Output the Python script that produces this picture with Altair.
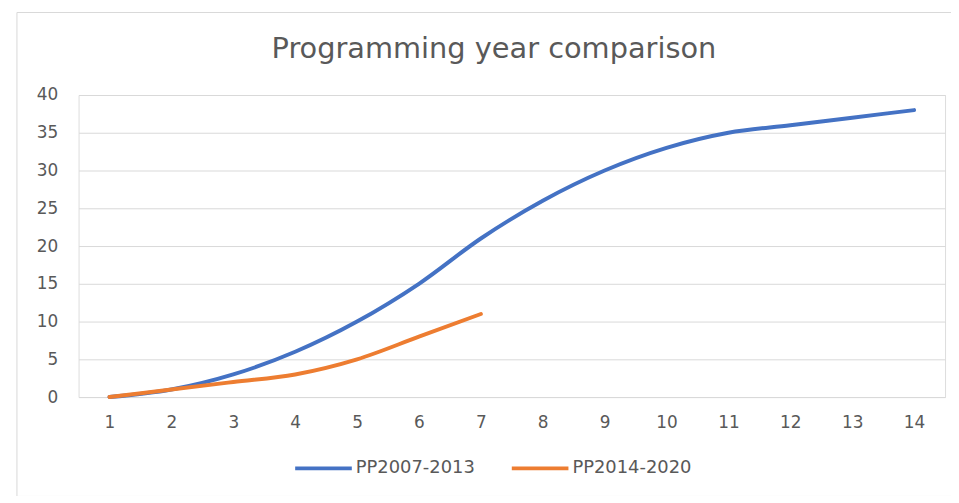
import altair as alt
import pandas as pd

years = list(range(1, 15))
pp2007 = [0, 1, 3, 6, 10, 15, 21, 26, 30, 33, 35, 36, 37, 38]
pp2014 = [0, 1, 2, 3, 5, 8, 11]
series_names = ["PP2007-2013", "PP2014-2020"]
colors = ["#4472C4", "#ED7D31"]
title_text = "Programming year comparison"

rows = []
for x, v in zip(years, pp2007):
    rows.append({"year": x, "value": v, "series": series_names[0]})
for x, v in zip(years, pp2014):
    rows.append({"year": x, "value": v, "series": series_names[1]})
df = pd.DataFrame(rows)

FONT = "DejaVu Sans"
GRAY = "#595959"

frame = alt.Chart(pd.DataFrame({"a": [0]})).mark_rect(
    fill=None, stroke="#d9d9d9", strokeWidth=1
).encode(
    x=alt.value(-62), x2=alt.value(905), y=alt.value(-83), y2=alt.value(404)
)

title = alt.Chart(pd.DataFrame({"t": [title_text]})).mark_text(
    font=FONT, fontSize=29, color=GRAY, align="center", baseline="alphabetic"
).encode(text="t:N", x=alt.value(418), y=alt.value(-37))

lines = alt.Chart(df).mark_line(strokeWidth=4, interpolate="monotone", strokeCap="round").encode(
    x=alt.X("year:O", scale=alt.Scale(type="point", padding=0.5),
            axis=alt.Axis(title=None, labelAngle=0, ticks=False, domain=False,
                          labelFontSize=17, labelColor=GRAY, labelFont=FONT,
                          labelPadding=18, grid=False)),
    y=alt.Y("value:Q", scale=alt.Scale(domain=[0, 40], nice=False),
            axis=alt.Axis(title=None, values=list(range(0, 45, 5)), ticks=False, domain=False,
                          labelFontSize=17, labelColor=GRAY, labelFont=FONT,
                          labelPadding=21, gridColor="#d9d9d9", gridWidth=1)),
    color=alt.Color("series:N", scale=alt.Scale(domain=series_names, range=colors),
                    legend=alt.Legend(title=None, orient="none", direction="horizontal",
                                      legendX=216, legendY=345, symbolType="stroke",
                                      symbolSize=3249, symbolStrokeWidth=4,
                                      labelFontSize=18, labelColor=GRAY, labelFont=FONT,
                                      columnPadding=29, labelOffset=2)),
)

chart = alt.layer(frame, title, lines).properties(
    width=872, height=304,
    autosize=alt.AutoSizeParams(type="none"),
    padding={"left": 71, "top": 86, "right": 6, "bottom": 98},
).configure_view(stroke=None).configure(background="white")

chart.save("out.html", embed_options={"renderer": "svg", "actions": False})
